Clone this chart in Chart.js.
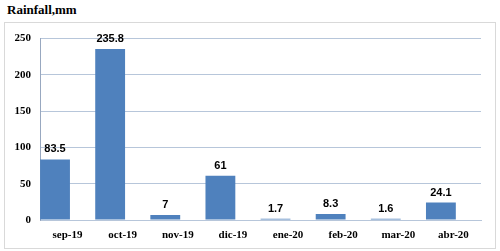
<!DOCTYPE html>
<html>
<head>
<meta charset="utf-8">
<script src="https://cdn.jsdelivr.net/npm/chart.js@4"></script>
<style>
  html,body{margin:0;padding:0;background:#fff;width:500px;height:251px;overflow:hidden}
  #title{position:absolute;left:7px;top:2px;font:bold 13px "Liberation Serif",serif;color:#000}
  #box{position:absolute;left:4px;top:22px;width:490px;height:225px;border:1px solid #d9d9d9}
  #box canvas{display:block}
</style>
</head>
<body>
<div id="title">Rainfall,mm</div>
<div id="box"><canvas id="chart" width="490" height="225"></canvas></div>
<script>
/* ===== Dados ===== */
const months   = ['sep-19','oct-19','nov-19','dic-19','ene-20','feb-20','mar-20','abr-20'];
const rainfall = [83.5, 235.8, 7, 61, 1.7, 8.3, 1.6, 24.1];
const spacer   = months.map(()=> null); // série vazia: empurra as barras para a esquerda da categoria
const yTicks   = [0, 50, 100, 150, 200, 250];

const GRID = '#b7c6da';

/* rótulos acima das barras */
const valueLabels = {
  id:'valueLabels',
  afterDatasetsDraw(chart){
    const ctx = chart.ctx;
    const meta = chart.getDatasetMeta(0);
    ctx.save();
    ctx.font = 'bold 11px "Liberation Sans", Arial, sans-serif';
    ctx.fillStyle = '#000';
    ctx.textAlign = 'center';
    ctx.textBaseline = 'alphabetic';
    meta.data.forEach((bar,i)=>{
      ctx.fillText(String(rainfall[i]), bar.x, bar.y - 7);
    });
    ctx.restore();
  }
};

new Chart(document.getElementById('chart').getContext('2d'), {
  type:'bar',
  data:{
    labels: months,
    datasets:[
      { data: rainfall, backgroundColor:'#4f81bd', borderWidth:0 },
      { data: spacer, backgroundColor:'transparent' }
    ]
  },
  options:{
    responsive:false,
    animation:false,
    categoryPercentage:0.91,
    barPercentage:1.19,
    layout:{ padding:{ top:12, right:14, left:0, bottom:0 } },
    plugins:{ legend:{display:false}, tooltip:{enabled:false} },
    scales:{
      x:{
        grid:{ display:false, drawTicks:false },
        border:{ display:true, color:GRID },
        ticks:{
          padding:9,
          color:'#000',
          font:{ family:'"Liberation Serif", serif', size:11, weight:'bold' },
          maxRotation:0, autoSkip:false
        },
        afterFit(s){ s.height = 28; }
      },
      y:{
        min:0, max:250,
        afterBuildTicks(s){ s.ticks = yTicks.map(v=>({value:v})); },
        grid:{ color:GRID, drawTicks:false },
        border:{ display:true, color:'#98a8c0' },
        ticks:{
          padding:9,
          color:'#000',
          font:{ family:'"Liberation Serif", serif', size:11, weight:'bold' }
        },
        afterFit(s){ s.width = 35; }
      }
    }
  },
  plugins:[valueLabels]
});
</script>
</body>
</html>
